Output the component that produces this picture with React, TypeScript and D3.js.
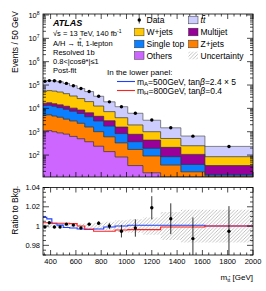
import React from 'react';
import * as d3 from 'd3';

// ---- data ----
const binEdges = [340, 370, 410, 450, 500, 550, 610, 670, 740, 820, 910, 1010, 1130, 1270, 1430, 1620, 2000];
const dataValues = [144500, 154900, 151400, 138000, 117500, 93300, 70800, 52500, 33100, 19050, 11750, 6166, 3162, 1479, 646, 234];
const others = [1100, 1120, 1000, 890, 790, 630, 500, 372, 240, 141, 83, 35.5, 17.4, 10, 6.3, 3.2];
const zjets = [4030, 4130, 3680, 3280, 2670, 2250, 1790, 1213, 760, 462, 248, 138.5, 73.8, 27.2, 12.8, 9.4];
const singleTop = [8050, 8240, 7630, 6550, 5650, 4700, 3735, 2780, 1884, 1135, 501, 198, 104, 47.9, 20.7, 1.9];
const multijet = [3410, 3890, 3550, 3410, 3180, 2650, 2485, 2092, 1687, 1213, 753, 404, 242, 129, 67.2, 21];
const wjets = [37100, 40170, 39100, 36000, 30360, 23650, 17790, 13040, 8018, 4293, 2396, 1174, 563, 299, 144, 49.6];
const ttbar = [91000, 96810, 96550, 88060, 74600, 59350, 44630, 32880, 20425, 11811, 7831, 4228, 2103, 955, 403, 150];

const ratioData = [0.999, 1.0034, 0.999, 0.999, 1.002, 1.001, 0.998, 1.002, 1.003, 1.0, 0.9947, 0.998, 1.019, 1.0076, 0.987, 0.9947];
const ratioErr = [0.0007, 0.0007, 0.0007, 0.0008, 0.0009, 0.001, 0.0012, 0.0015, 0.002, 0.003, 0.0065, 0.009, 0.012, 0.016, 0.022, 0.026];
const uncHalf = [0.002, 0.002, 0.002, 0.002, 0.002, 0.0022, 0.0025, 0.003, 0.0035, 0.0045, 0.006, 0.007, 0.009, 0.0145, 0.017, 0.017];
const sigA500 = [1.009, 1.0075, 1.003, 1.001, 0.9985, 0.998, 0.997, 0.9965, 0.997, 0.999, 1.0, 1.0008, 1.0008, 1.0008, 1.0008, 1.0];
const sigH800 = [1.0035, 1.0035, 1.003, 1.003, 1.003, 1.0025, 1.0, 0.997, 0.9947, 0.9947, 0.996, 0.9963, 0.9963, 0.999, 0.999, 1.0];

const upperExps = [2, 3, 4, 5, 6, 7, 8];
const xTickLabels = [400, 600, 800, 1000, 1200, 1400, 1600, 1800, 2000];
const ratioTickLabels = [1.04, 1.02, 1, 0.98];

const W = 266, H = 291;
const FL = 43, FR = 253, UT = 14, UB = 177, LT = 187.5, LB = 255;
const FONT = 'Liberation Sans, Arial, Helvetica, sans-serif';

export default function App() {
  const x = d3.scaleLinear().domain([340, 2000]).range([FL, FR]);
  const yU = d3.scaleLog().domain([11.5, 1.1e8]).range([UB, UT]).clamp(true);
  const yL = d3.scaleLinear().domain([0.97, 1.04]).range([LB, LT]);

  const layers = [
    { name: 'Others', values: others, color: '#CC66FF' },
    { name: 'Z+jets', values: zjets, color: '#FF8000' },
    { name: 'Single top', values: singleTop, color: '#0A7FFF' },
    { name: 'Multijet', values: multijet, color: '#990099' },
    { name: 'W+jets', values: wjets, color: '#FFC800' },
    { name: 'ttbar', values: ttbar, color: '#CCCCFF' },
  ];
  const nb = binEdges.length - 1;
  const cum: number[][] = [];
  let acc = new Array(nb).fill(0);
  layers.forEach((l) => {
    acc = acc.map((a: number, i: number) => a + l.values[i]);
    cum.push(acc.slice());
  });
  const stepPts = (vals: number[]) => vals.flatMap((v, i) => [[binEdges[i], v], [binEdges[i + 1], v]]);
  const stepLine = (vals: number[], ys: any) =>
    d3.line<number[]>().x((d) => x(d[0])).y((d) => ys(d[1]))(stepPts(vals)) as string;
  const stackArea = (vals: number[]) =>
    d3.area<number[]>().x((d) => x(d[0])).y0(UB).y1((d) => yU(d[1]))(stepPts(vals)) as string;
  const centers = binEdges.slice(0, -1).map((e, i) => (e + binEdges[i + 1]) / 2);

  const bandPts = stepPts(uncHalf);
  const bandPath = d3.area<number[]>().x((d) => x(d[0])).y0((d) => yL(1 - d[1])).y1((d) => yL(1 + d[1]))(bandPts) as string;

  const tickEls: any[] = [];
  let k = 0;
  const ln = (x1: number, y1: number, x2: number, y2: number) =>
    tickEls.push(<line key={'t' + k++} x1={x1} y1={y1} x2={x2} y2={y2} stroke="#000" strokeWidth={0.7} />);
  // upper y ticks
  for (let e = 1; e <= 8; e++) {
    for (let m = 1; m <= 9; m++) {
      const v = m * Math.pow(10, e);
      if (v < 11.5 || v > 1.1e8) continue;
      const len = m === 1 ? 6 : 3;
      const yy = yU(v);
      ln(FL, yy, FL + len, yy);
      ln(FR, yy, FR - len, yy);
    }
  }
  // x ticks both panels
  for (let v = 350; v <= 2000; v += 50) {
    const major = v % 200 === 0;
    const len = major ? 5 : 2.5;
    const xx = x(v);
    ln(xx, UB, xx, UB - len);
    ln(xx, UT, xx, UT + len);
    ln(xx, LB, xx, LB - len);
    ln(xx, LT, xx, LT + len);
  }
  // lower y ticks
  for (let i = 0; i <= 14; i++) {
    const v = 0.97 + i * 0.005;
    const major = Math.abs(Math.round(v / 0.02) * 0.02 - v) < 1e-6;
    const len = major ? 6 : 3;
    const yy = yL(v);
    ln(FL, yy, FL + len, yy);
    ln(FR, yy, FR - len, yy);
  }

  const ttbarLabel = (fs: number) => (
    <>
      <tspan>t</tspan>
      <tspan style={{ textDecoration: 'overline' }}>t</tspan>
    </>
  );

  const legCol1 = 134.5, legCol2 = 188.5;
  const rows = [20, 32, 44, 55.5];
  const box = (xx: number, yc: number, fill: string, key: string) => (
    <rect key={key} x={xx} y={yc - 3.8} width={9.5} height={7.6} fill={fill} stroke="#333" strokeWidth={0.5} />
  );

  return (
    <svg width={W} height={H} style={{ position: 'absolute', left: 0, top: 0, background: '#fff' }} fontFamily={FONT}>
      <defs>
        <clipPath id="cu"><rect x={FL} y={UT} width={FR - FL} height={UB - UT} /></clipPath>
        <clipPath id="cl"><rect x={FL} y={LT} width={FR - FL} height={LB - LT} /></clipPath>
        <pattern id="hatch" patternUnits="userSpaceOnUse" width={3.5} height={3.5}>
          <path d="M-1,1 l2,-2 M0,3.5 l3.5,-3.5 M2.5,4.5 l2,-2" stroke="#999" strokeWidth={0.6} />
        </pattern>
      </defs>
      <rect width={W} height={H} fill="#fff" />

      {/* upper panel stack */}
      <g clipPath="url(#cu)">
        {layers.map((l, i) => ({ l, i })).reverse().map(({ l, i }) => (
          <path key={l.name} d={stackArea(cum[i])} fill={l.color} />
        ))}
        {layers.map((l, i) => (
          <path key={l.name + 'o'} d={stepLine(cum[i], yU)} fill="none" stroke={i === 5 ? '#555' : '#333'} strokeWidth={0.7} />
        ))}
        {centers.map((c, i) => (
          <circle key={'d' + i} cx={x(c)} cy={yU(dataValues[i])} r={1.7} fill="#000" />
        ))}
      </g>

      {/* lower panel */}
      <g clipPath="url(#cl)">
        <path d={bandPath} fill="url(#hatch)" />
        <path d={stepLine(sigA500, yL)} fill="none" stroke="#2040FF" strokeWidth={1.1} />
        <path d={stepLine(sigH800, yL)} fill="none" stroke="#FF2020" strokeWidth={1.1} />
        {centers.map((c, i) => (
          <g key={'r' + i}>
            <line x1={x(c)} x2={x(c)} y1={yL(ratioData[i] - ratioErr[i])} y2={yL(ratioData[i] + ratioErr[i])} stroke="#000" strokeWidth={0.8} />
            <circle cx={x(c)} cy={yL(ratioData[i])} r={1.7} fill="#000" />
          </g>
        ))}
      </g>

      {tickEls}
      <rect x={FL} y={UT} width={FR - FL} height={UB - UT} fill="none" stroke="#000" strokeWidth={0.8} />
      <rect x={FL} y={LT} width={FR - FL} height={LB - LT} fill="none" stroke="#000" strokeWidth={0.8} />

      {/* axis labels */}
      {upperExps.map((e) => (
        <text key={'ye' + e} x={39.5} y={yU(Math.pow(10, e)) + 3} textAnchor="end" fontSize={7.5}>
          10<tspan dy={-3.2} fontSize={5}>{e}</tspan>
        </text>
      ))}
      {ratioTickLabels.map((v) => (
        <text key={'yl' + v} x={40} y={yL(v) + 2.7} textAnchor="end" fontSize={7.5}>{String(v)}</text>
      ))}
      {xTickLabels.map((v) => (
        <text key={'xl' + v} x={x(v)} y={264} textAnchor="middle" fontSize={7.5}>{v}</text>
      ))}
      <text transform="translate(18,11) rotate(-90)" textAnchor="end" fontSize={8.5}>Events / 50 GeV</text>
      <text transform="translate(18,186) rotate(-90)" textAnchor="end" fontSize={8.5}>Ratio to Bkg.</text>
      <text x={253} y={279.5} textAnchor="end" fontSize={8}>
        m<tspan dy={2} fontSize={5.5}>t</tspan><tspan fontSize={5.5} style={{ textDecoration: 'overline' }}>t</tspan><tspan dy={-2}> [GeV]</tspan>
      </text>

      {/* ATLAS label block */}
      <text x={53} y={26} fontSize={9} fontWeight="bold" fontStyle="italic">ATLAS</text>
      <text x={53} y={36} fontSize={7.5}>
        √s = 13 TeV, 140 fb<tspan dy={-3} fontSize={5}>-1</tspan>
      </text>
      <text x={53} y={45.5} fontSize={7.5}>A/H → {ttbarLabel(7.5)}, 1-lepton</text>
      <text x={53} y={55} fontSize={7.5}>Resolved 1b</text>
      <text x={53} y={64} fontSize={7.5}>0.8&lt;|cosθ*|≤1</text>
      <text x={53} y={73} fontSize={7.5}>Post-fit</text>

      {/* legend */}
      <line x1={legCol1 + 4.75} x2={legCol1 + 4.75} y1={rows[0] - 3.5} y2={rows[0] + 3.5} stroke="#000" strokeWidth={0.7} />
      <circle cx={legCol1 + 4.75} cy={rows[0]} r={1.7} fill="#000" />
      <text x={146.5} y={rows[0] + 3} fontSize={8.5}>Data</text>
      {box(legCol2, rows[0], '#CCCCFF', 'b0')}
      <text x={200.5} y={rows[0] + 3} fontSize={8.5} fontStyle="italic">{ttbarLabel(8.5)}</text>
      {box(legCol1, rows[1], '#FFC800', 'b1')}
      <text x={146.5} y={rows[1] + 3} fontSize={8.5}>W+jets</text>
      {box(legCol2, rows[1], '#990099', 'b2')}
      <text x={200.5} y={rows[1] + 3} fontSize={8.5}>Multijet</text>
      {box(legCol1, rows[2], '#0A7FFF', 'b3')}
      <text x={146.5} y={rows[2] + 3} fontSize={8.5}>Single top</text>
      {box(legCol2, rows[2], '#FF8000', 'b4')}
      <text x={200.5} y={rows[2] + 3} fontSize={8.5}>Z+jets</text>
      {box(legCol1, rows[3], '#CC66FF', 'b5')}
      <text x={146.5} y={rows[3] + 3} fontSize={8.5}>Others</text>
      <rect x={legCol2} y={rows[3] - 3.8} width={9.5} height={7.6} fill="url(#hatch)" />
      <text x={200.5} y={rows[3] + 3} fontSize={8.5}>Uncertainty</text>

      <text x={107} y={75} fontSize={8}>In the lower panel:</text>
      <line x1={117} x2={135} y1={81.5} y2={81.5} stroke="#2040FF" strokeWidth={1.1} />
      <text x={137} y={84.5} fontSize={8.5}>
        m<tspan dy={1.8} fontSize={6}>A</tspan><tspan dy={-1.8}>=500GeV, tan</tspan><tspan fontStyle="italic">β</tspan>=2.4 × 5
      </text>
      <line x1={117} x2={135} y1={90.5} y2={90.5} stroke="#FF2020" strokeWidth={1.1} />
      <text x={137} y={93.5} fontSize={8.5}>
        m<tspan dy={1.8} fontSize={6}>H</tspan><tspan dy={-1.8}>=800GeV, tan</tspan><tspan fontStyle="italic">β</tspan>=0.4
      </text>
    </svg>
  );
}
